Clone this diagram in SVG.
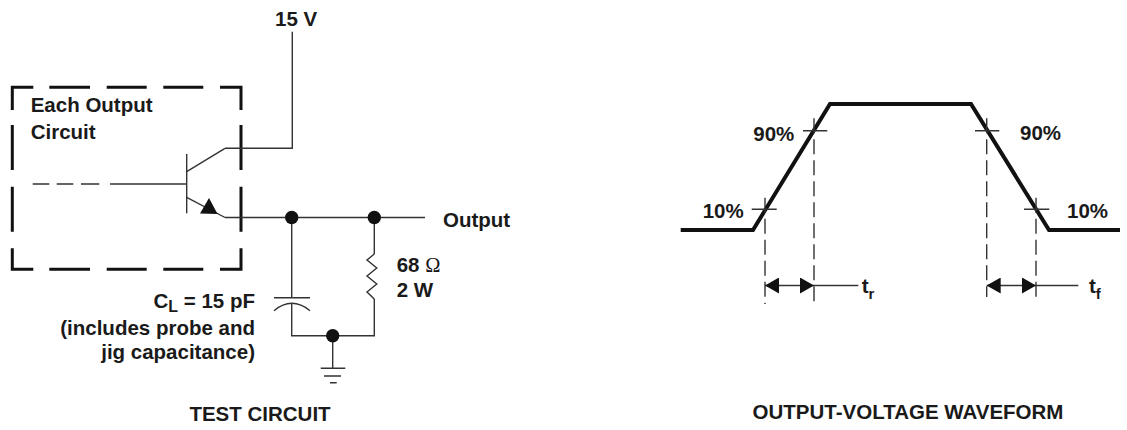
<svg xmlns="http://www.w3.org/2000/svg" width="1127" height="430" viewBox="0 0 1127 430">
<style>
  text { font-family: "Liberation Sans", Arial, sans-serif; font-weight: bold; font-size: 20.5px; fill: #1a1a1a; }
  .thin { fill: none; stroke: #333; stroke-width: 1.4; }
  .dash { fill: none; stroke: #333; stroke-width: 1.4; stroke-dasharray: 15 6; }
  .thick { fill: none; stroke: #111; stroke-width: 4; stroke-linejoin: miter; }
  .box { fill: none; stroke: #111; stroke-width: 3; }
  .dot { fill: #111; }
  .end { text-anchor: end; }
  .mid { text-anchor: middle; }
</style>
<defs>
  <marker id="ah" viewBox="0 0 14 16" refX="14" refY="8" markerWidth="14" markerHeight="16" markerUnits="userSpaceOnUse" orient="auto-start-reverse">
    <path d="M0,0 L14,8 L0,16 Z" fill="#111"/>
  </marker>
</defs>
<rect width="1127" height="430" fill="#fff"/>

<!-- TEST CIRCUIT -->
<g id="output-circuit-box">
  <path class="box" d="M12.3,110 V87.3 H33.3 M49.3,87.3 H90 M106.7,87.3 H146.7 M163.3,87.3 H203.3 M220,87.3 H241 V110 M241,125 V170 M241,186.7 V231.7 M241,248.3 V269.3 H220 M203.3,269.3 H163.3 M146.7,269.3 H106.7 M90,269.3 H49.3 M33.3,269.3 H12.3 V248.3 M12.3,231.7 V186.7 M12.3,170 V125"/>
  <text x="30.7" y="112">Each Output</text>
  <text x="30.7" y="139">Circuit</text>
</g>

<g id="transistor">
  <path class="thin" d="M186.7,154 V213.3"/>
  <path class="thin" d="M186.7,171.7 L225,148.3"/>
  <path class="thin" d="M186.7,197.3 L225,217.5"/>
  <polygon points="200,213.5 209,198 217.5,214" fill="#111"/>
</g>

<g id="supply">
  <text x="275" y="26">15 V</text>
</g>

<g id="connectors">
  <path class="thin" d="M32.7,184 H49.3 M56.7,184 H73.3 M81,184 H99.3 M110,184 H186.7"/>
  <path class="thin" d="M225,148.3 H292.3 V31.7"/>
  <path class="thin" d="M225,217.5 H425"/>
  <path class="thin" d="M291.7,217.5 V297.7"/>
  <path class="thin" d="M291.7,303.3 V335.7 H374.3 V299"/>
  <path class="thin" d="M374.3,217.5 V254"/>
  <path class="thin" d="M332.7,335.7 V368.3"/>
  <circle class="dot" cx="291.7" cy="217.5" r="6.7"/>
  <circle class="dot" cx="374.3" cy="217.5" r="6.7"/>
  <circle class="dot" cx="332.7" cy="335.7" r="6.7"/>
</g>

<g id="output-label">
  <text x="443" y="227">Output</text>
</g>

<g id="capacitor">
  <path class="thin" d="M274,297.7 H310"/>
  <path class="thin" d="M274,310.7 Q291.7,295.9 310,310.7"/>
  <text class="end" x="255" y="308.3">C<tspan font-size="16" dy="3.5">L</tspan><tspan dy="-3.5"> = 15 pF</tspan></text>
  <text class="end" x="255" y="334.5">(includes probe and</text>
  <text class="end" x="255" y="358.8">jig capacitance)</text>
</g>

<g id="resistor">
  <path class="thin" d="M374.3,254 L367,260 L376.8,268 L367,276 L376.8,284 L367,292 L374.3,299"/>
  <text x="396.7" y="271.7">68 <tspan font-family="'Liberation Serif', serif" font-weight="normal">Ω</tspan></text>
  <text x="396.7" y="297.3">2 W</text>
</g>

<g id="ground">
  <path class="thin" d="M320.7,368.3 H345.3 M324,376 H341 M330,382.7 H336.7"/>
</g>

<text class="mid" x="260" y="421">TEST CIRCUIT</text>

<!-- OUTPUT-VOLTAGE WAVEFORM -->
<g id="waveform">
  <path class="thick" d="M680.7,230 H753 L830,104 H971 L1049,230 H1120"/>
</g>

<g id="markers">
  <path class="thin" d="M751.7,209.3 H776.7 M803,130.7 H827.3 M975,130.7 H999.3 M1024,209.3 H1049.3"/>
  <path class="dash" d="M765,197.7 V304"/>
  <path class="dash" d="M814,118.3 V304"/>
  <path class="dash" d="M986.7,118.3 V297"/>
  <path class="dash" d="M1036,197.7 V297"/>
  <text x="753.3" y="140.5">90%</text>
  <text x="702.7" y="218.3">10%</text>
  <text x="1020" y="140">90%</text>
  <text x="1067" y="218.3">10%</text>
</g>

<g id="timing">
  <path class="thin" d="M765,285.5 H814" marker-start="url(#ah)" marker-end="url(#ah)"/>
  <path class="thin" d="M814,285.5 H858.3"/>
  <text x="861.7" y="293">t<tspan font-size="15" dy="6">r</tspan></text>
  <path class="thin" d="M986.7,285.5 H1036" marker-start="url(#ah)" marker-end="url(#ah)"/>
  <path class="thin" d="M1036,285.5 H1078.3"/>
  <text x="1089" y="293">t<tspan font-size="15" dy="6">f</tspan></text>
</g>

<text class="mid" x="908" y="419">OUTPUT-VOLTAGE WAVEFORM</text>
</svg>
